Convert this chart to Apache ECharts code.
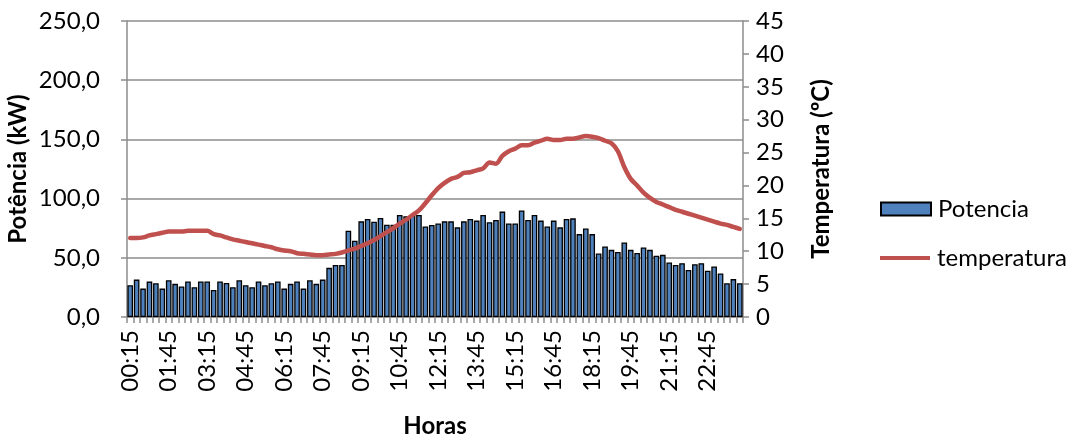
<!DOCTYPE html>
<html>
<head>
<meta charset="utf-8">
<script src="https://cdn.jsdelivr.net/npm/echarts@6/dist/echarts.min.js"></script>
<style>
  html, body { margin: 0; padding: 0; background: #fff; }
  #chart { width: 1084px; height: 441px; }
</style>
</head>
<body>
<div id="chart"></div>
<script>
// Quarter-hour time slots of one day
const horas = [];
for (let i = 1; i <= 96; i++) {
  const m = i * 15;
  const h = Math.floor(m / 60) % 24;
  const mm = m % 60;
  horas.push(String(h).padStart(2, '0') + ':' + String(mm).padStart(2, '0'));
}

// Power demand per slot (kW)
const potencia = [
  26.8, 31.6, 24.0, 29.9, 28.5, 24.0, 31.0, 28.0, 25.7, 30.0,
  25.2, 30.0, 30.0, 22.9, 30.0, 28.8, 25.2, 31.0, 26.8, 25.2,
  30.0, 26.8, 28.5, 30.0, 24.0, 28.0, 30.0, 24.0, 31.0, 28.0,
  31.6, 41.5, 44.0, 44.0, 72.9, 64.4, 80.8, 82.8, 80.5, 83.6,
  78.0, 78.0, 86.2, 85.0, 86.2, 86.2, 76.5, 77.7, 79.0, 80.8,
  80.8, 75.7, 80.8, 82.8, 81.4, 86.2, 80.0, 82.0, 89.0, 79.0,
  79.0, 90.0, 82.0, 86.2, 81.4, 76.5, 81.4, 75.7, 82.8, 83.3,
  70.0, 74.8, 70.0, 53.6, 59.5, 56.7, 55.0, 63.0, 56.7, 54.0,
  58.7, 56.7, 51.7, 52.5, 46.0, 44.0, 45.5, 39.8, 44.6, 45.5,
  39.0, 42.6, 36.7, 28.5, 32.0, 28.5
];

// Outdoor temperature per slot (°C)
const temperatura = [
  12.0, 12.0, 12.1, 12.4, 12.6, 12.8, 13.0, 13.0, 13.0, 13.1,
  13.1, 13.1, 13.1, 12.6, 12.4, 12.1, 11.8, 11.6, 11.4, 11.2,
  11.0, 10.8, 10.6, 10.3, 10.1, 10.0, 9.7, 9.6, 9.5, 9.4,
  9.4, 9.5, 9.6, 9.8, 10.1, 10.4, 10.8, 11.2, 11.7, 12.3,
  12.9, 13.5, 14.2, 14.8, 15.5, 16.2, 17.3, 18.5, 19.6, 20.4,
  21.0, 21.3, 21.9, 22.0, 22.3, 22.6, 23.5, 23.3, 24.5, 25.2,
  25.6, 26.1, 26.1, 26.5, 26.8, 27.1, 26.9, 26.9, 27.1, 27.1,
  27.3, 27.5, 27.4, 27.2, 26.8, 26.4, 25.2, 22.8, 21.0, 20.0,
  18.9, 18.1, 17.5, 17.1, 16.7, 16.3, 16.0, 15.7, 15.4, 15.1,
  14.8, 14.5, 14.2, 14.0, 13.7, 13.4
];

const FONT = 'Lato, "Liberation Sans", sans-serif';
const FS = 24;
const AXIS_GREY = '#8c8c8c';

const chart = echarts.init(document.getElementById('chart'));
chart.setOption({
  animation: false,
  textStyle: { fontFamily: FONT, color: '#000' },
  grid: { left: 127, right: 341, top: 21, bottom: 124, containLabel: false, outerBoundsMode: 'none' },
  legend: [
    {
      data: [{ name: 'Potencia', icon: 'rect' }],
      orient: 'vertical',
      left: 880, top: 197, padding: 0,
      itemWidth: 50, itemHeight: 13,
      textStyle: { fontFamily: FONT, fontSize: FS, color: '#000', padding: [0, 0, 0, 2] }
    },
    {
      data: [{ name: 'temperatura', icon: 'rect' }],
      orient: 'vertical',
      left: 880, top: 246, padding: 0,
      itemWidth: 50, itemHeight: 4,
      itemStyle: { borderWidth: 0 },
      textStyle: { fontFamily: FONT, fontSize: FS, color: '#000', padding: [0, 0, 0, 2] }
    }
  ],
  xAxis: {
    type: 'category',
    data: horas,
    boundaryGap: true,
    name: 'Horas',
    nameLocation: 'middle',
    nameGap: 97,
    nameTextStyle: { fontFamily: FONT, fontSize: FS, fontWeight: 'bold', color: '#000' },
    axisLine: { lineStyle: { color: AXIS_GREY, width: 1.5 } },
    axisTick: { show: true, interval: 0, length: 6, lineStyle: { color: AXIS_GREY, width: 1.5 } },
    axisLabel: { interval: 5, rotate: 90, margin: 13, fontSize: FS, color: '#000', fontFamily: FONT }
  },
  yAxis: [
    {
      type: 'value',
      min: 0, max: 250, interval: 50,
      name: 'Potência (kW)',
      nameLocation: 'middle',
      nameRotate: 90,
      nameGap: 97,
      nameMoveOverlap: false,
      nameTextStyle: { fontFamily: FONT, fontSize: FS, fontWeight: 'bold', color: '#000' },
      axisLine: { show: true, lineStyle: { color: AXIS_GREY, width: 1.5 } },
      axisTick: { show: true, length: 6, lineStyle: { color: AXIS_GREY, width: 1.5 } },
      axisLabel: {
        fontSize: FS, color: '#000', fontFamily: FONT, margin: 27,
        formatter: v => v.toFixed(1).replace('.', ',')
      },
      splitLine: { show: true, lineStyle: { color: AXIS_GREY, width: 1.5 } }
    },
    {
      type: 'value',
      min: 0, max: 45, interval: 5,
      name: 'Temperatura (ºC)',
      nameLocation: 'middle',
      nameRotate: 90,
      nameGap: 66,
      nameTextStyle: { fontFamily: FONT, fontSize: FS, fontWeight: 'bold', color: '#000' },
      axisLine: { show: true, lineStyle: { color: AXIS_GREY, width: 1.5 } },
      axisTick: { show: true, length: 6, lineStyle: { color: AXIS_GREY, width: 1.5 } },
      axisLabel: { fontSize: FS, color: '#000', fontFamily: FONT, margin: 13 },
      splitLine: { show: false }
    }
  ],
  series: [
    {
      name: 'Potencia',
      type: 'bar',
      yAxisIndex: 0,
      data: potencia,
      barCategoryGap: '12%',
      itemStyle: { color: '#4F81BD', borderColor: '#000', borderWidth: 1.3 }
    },
    {
      name: 'temperatura',
      type: 'line',
      yAxisIndex: 1,
      data: temperatura,
      showSymbol: false,
      symbol: 'none',
      smooth: 0.3,
      lineStyle: { color: '#C0504D', width: 4.5, cap: 'round', join: 'round' },
      itemStyle: { color: '#C0504D' }
    }
  ]
});
</script>
</body>
</html>
